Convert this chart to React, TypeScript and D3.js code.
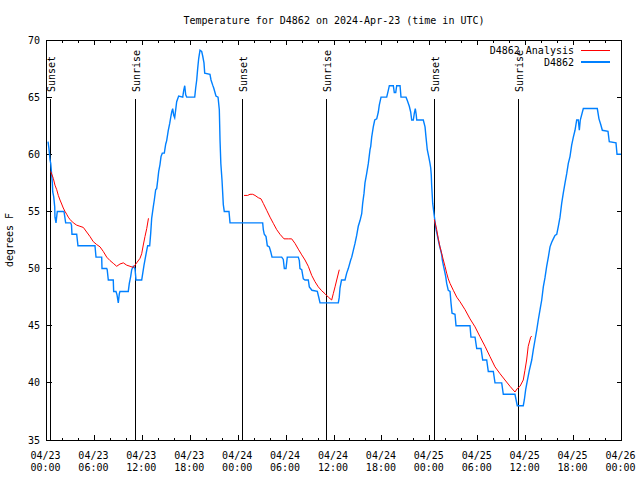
import React from 'react';
import * as d3 from 'd3';

// ---------- data (hours since 2024-04-23 00:00 UTC, degrees F) ----------
const startUtc = Date.UTC(2024, 3, 23, 0, 0, 0);
const spanHours = 72;

const title = 'Temperature for D4862 on 2024-Apr-23 (time in UTC)';
const yLabel = 'degrees F';
const yTicks = [35, 40, 45, 50, 55, 60, 65, 70];

const sunsetHours = [0.48, 24.52, 48.56];
const sunriseHours = [11.12, 35.04, 59.08];

const observed: [number, number][] = [
  [0.19, 61.1], [0.31, 60.5], [0.44, 59.5], [0.53, 59.2], [0.73, 57.5], [0.78, 56.7], [0.9, 56.3], [1.03, 55.4],
  [1.06, 54.5], [1.19, 54], [1.35, 55], [2.19, 55], [2.4, 54], [3.03, 54], [3.13, 53.8], [3.19, 53], [3.78, 53],
  [3.94, 52], [6.07, 52], [6.2, 51], [6.91, 51], [6.95, 50], [7.54, 50], [7.6, 49.9], [7.74, 49], [8.36, 49],
  [8.41, 48], [8.7, 48], [8.83, 47.7], [8.99, 47], [9.12, 47.8], [9.2, 48], [10.24, 48], [10.37, 48.7],
  [10.54, 49.3], [10.67, 49.9], [10.87, 50.2], [11.08, 50], [11.21, 49], [11.92, 49], [12.21, 50.3],
  [12.55, 51.6], [12.67, 52], [12.92, 52], [13.05, 53.1], [13.17, 54.4], [13.37, 55.4], [13.5, 56],
  [13.67, 56.9], [13.8, 57], [13.92, 57.7], [14.05, 58.5], [14.21, 59.1], [14.34, 59.8], [14.5, 60.1],
  [14.75, 60.1], [14.93, 60.9], [15.05, 61.2], [15.25, 62.1], [15.43, 62.7], [15.55, 63.2], [15.68, 63.7],
  [15.8, 64.0], [15.93, 63.4], [16.05, 63.2], [16.18, 63.9], [16.3, 64.6], [16.55, 65.1], [17.06, 65],
  [17.18, 65.6], [17.31, 66], [17.43, 65.2], [17.56, 65], [18.56, 65], [18.68, 65.8], [18.81, 66.5],
  [18.93, 67.5], [19.06, 68.4], [19.22, 69.1], [19.43, 69], [19.56, 68.6], [19.72, 68], [19.81, 67.1],
  [20.47, 67], [20.6, 66.5], [20.81, 66.05], [20.94, 65.8], [21.22, 65.1], [21.48, 65], [21.64, 63.9],
  [21.73, 61.2], [21.83, 59.2], [21.98, 57.7], [22.14, 55.6], [22.26, 55], [22.85, 55], [22.98, 54],
  [27.07, 54], [27.15, 53.4], [27.27, 53], [27.49, 52.8], [27.65, 52], [27.9, 51.9], [28.07, 51.5],
  [28.24, 51], [29.45, 51], [29.65, 50.8], [29.78, 50], [29.99, 50], [30.15, 51], [31.53, 51], [31.66, 50.7],
  [31.74, 50], [31.96, 49.9], [32.16, 49.1], [32.37, 49], [32.78, 49], [32.91, 48.4], [33.24, 48.1],
  [33.91, 48], [34.12, 47.4], [34.25, 47], [36.54, 47], [36.66, 47.5], [36.75, 48.3], [36.94, 49],
  [37.38, 49], [37.59, 49.6], [37.79, 50], [38.09, 50.75], [38.22, 51], [38.42, 51.6], [38.63, 52.2],
  [38.84, 52.9], [39.04, 53.7], [39.26, 54.2], [39.47, 54.8], [39.59, 55.7], [39.76, 56.6], [39.88, 57.5],
  [40.09, 58.3], [40.3, 59.2], [40.51, 60.4], [40.6, 60.7], [40.72, 61.5], [40.92, 62.4], [41.1, 63.0],
  [41.35, 63.1], [41.55, 63.7], [41.67, 64.3], [41.89, 65], [42.6, 65], [42.8, 65.6], [42.93, 66],
  [43.43, 66], [43.55, 65.4], [43.73, 65.4], [43.85, 66], [44.27, 66], [44.39, 65], [45.02, 65],
  [45.18, 64.7], [45.43, 64.2], [45.6, 63.7], [45.73, 63], [45.93, 63], [46.06, 63.6], [46.18, 64.0],
  [46.29, 63.5], [46.36, 63], [47.18, 63], [47.4, 62.4], [47.52, 61.5], [47.68, 60.4], [47.86, 59.8],
  [48.02, 59.2], [48.11, 58.8], [48.18, 58.2], [48.23, 57.3], [48.36, 55.7], [48.52, 54.8], [48.65, 54.1],
  [48.78, 53.4], [48.94, 52.9], [49.06, 52.5], [49.19, 52.06], [49.36, 51.6], [49.49, 51.2], [49.56, 50.75],
  [49.69, 50.3], [49.81, 49.9], [49.99, 49.3], [50.11, 48.7], [50.31, 48.1], [50.53, 48], [50.65, 47],
  [50.78, 46.1], [51.15, 46], [51.28, 45], [53.03, 45], [53.15, 44], [53.66, 44], [53.87, 43], [54.41, 43],
  [54.62, 42], [55.12, 42], [55.32, 41], [55.95, 41], [56.16, 40], [57.0, 40], [57.2, 39], [58.66, 39],
  [58.95, 38], [59.7, 38], [59.83, 38.5], [60.0, 39.4], [60.21, 40.2], [60.46, 41.1], [60.76, 42.0],
  [60.96, 42.9], [61.17, 43.75], [61.38, 44.6], [61.58, 45.5], [61.8, 46.4], [62.01, 47.25], [62.21, 48.4],
  [62.42, 49.2], [62.63, 50.2], [62.84, 51], [63.05, 51.9], [63.26, 52.3], [63.46, 52.6], [63.67, 52.9],
  [63.89, 53], [64.09, 53.7], [64.3, 54.5], [64.51, 55.7], [64.71, 56.6], [64.93, 57.5], [65.14, 58.3],
  [65.34, 59.2], [65.55, 59.8], [65.76, 60.8], [65.97, 61.5], [66.18, 62.1], [66.39, 63], [66.59, 63],
  [66.72, 62.1], [66.84, 63], [67.22, 64], [68.97, 64], [69.18, 63.1], [69.4, 62.6], [69.6, 62.1],
  [70.31, 62], [70.47, 61.1], [71.31, 61], [71.44, 60], [71.94, 60],
];

const analysisDay1: [number, number][] = [
  [0.53, 58.5], [0.85, 57.9], [1.06, 57.3], [1.28, 56.9], [1.48, 56.4], [1.69, 56.0], [1.9, 55.65],
  [2.1, 55.3], [2.32, 55.0], [2.53, 54.75], [2.73, 54.5], [2.94, 54.3], [3.36, 54.0], [3.78, 53.8],
  [4.19, 53.7], [4.61, 53.6], [5.03, 53.2], [5.45, 52.8], [5.86, 52.35], [6.29, 52.1], [6.7, 51.9],
  [7.11, 51.5], [7.54, 51.0], [7.95, 50.7], [8.36, 50.46], [8.79, 50.2], [9.2, 50.4], [9.62, 50.5],
  [10.04, 50.3], [10.46, 50.2], [10.87, 50.1], [11.29, 50.5], [11.71, 50.9], [11.92, 51.3], [12.12, 52.06],
  [12.33, 52.8], [12.55, 53.5], [12.77, 54.4],
];
const analysisDay2: [number, number][] = [
  [24.73, 56.4], [25.19, 56.4], [25.48, 56.5], [25.82, 56.5], [26.11, 56.4], [26.52, 56.2], [26.86, 56.1],
  [27.15, 55.7], [27.57, 55.1], [27.99, 54.5], [28.4, 53.96], [28.83, 53.4], [29.24, 53.0], [29.74, 52.6],
  [30.28, 52.6], [30.7, 52.6], [31.12, 52.2], [31.53, 51.7], [31.96, 51.2], [32.37, 50.75], [32.78, 50.2],
  [33.21, 49.4], [33.62, 48.85], [34.03, 48.4], [34.46, 48.06], [34.87, 47.8], [35.29, 47.5], [35.71, 47.25],
  [35.91, 47.8], [36.13, 48.4], [36.34, 49.0], [36.66, 49.9],
];
const analysisDay3: [number, number][] = [
  [48.56, 54.3], [48.86, 53.4], [49.06, 52.6], [49.27, 51.9], [49.49, 51.3], [49.69, 50.75], [49.9, 50.2],
  [50.11, 49.6], [50.31, 49.1], [50.53, 48.7], [50.94, 48.1], [51.37, 47.5], [51.78, 47.1], [52.41, 46.4],
  [53.03, 45.6], [53.66, 44.9], [54.28, 44.04], [54.91, 43.2], [55.53, 42.3], [56.16, 41.4], [56.79, 40.8],
  [57.41, 40.25], [58.04, 39.7], [58.66, 39.2], [58.95, 39.5], [59.29, 39.7], [59.7, 40.25], [59.91, 41.1],
  [60.12, 42.0], [60.32, 43.2], [60.63, 44.0], [60.76, 44.1],
];

const seriesNames = ['D4862 Analysis', 'D4862'];
const seriesColors = ['#ff0000', '#0080ff'];

// ---------- layout ----------
const W = 640;
const H = 480;
const plot = { left: 46.5, right: 621.5, top: 40, bottom: 440 };
const FONT = 'DejaVu Sans Mono, Liberation Mono, monospace';
const FS = 10;
const eventLineTop = 99;
const eventLabelY = 92;
const blueWidth = 1.4;

const toDate = (h: number) => new Date(startUtc + h * 3600e3);

export default function App() {
  const x = d3.scaleUtc().domain([toDate(0), toDate(spanHours)]).range([plot.left, plot.right]);
  const y = d3.scaleLinear().domain([35, 70]).range([plot.bottom, plot.top]);
  const line = d3
    .line<[number, number]>()
    .x((d) => x(toDate(d[0])))
    .y((d) => y(d[1]));

  const minorTicks = x.ticks(d3.utcHour.every(2)!);
  const majorTicks = x.ticks(d3.utcHour.every(6)!);
  const fmtDate = d3.utcFormat('%m/%d');
  const fmtTime = d3.utcFormat('%H:%M');

  const events = [
    ...sunsetHours.map((h) => ({ h, label: 'Sunset' })),
    ...sunriseHours.map((h) => ({ h, label: 'Sunrise' })),
  ];

  const analysis = [analysisDay1, analysisDay2, analysisDay3];

  return (
    <svg
      width={W}
      height={H}
      style={{ position: 'absolute', left: 0, top: 0, background: '#fff' }}
      fontFamily={FONT}
      fontSize={FS}
    >
      <rect x={0} y={0} width={W} height={H} fill="#fff" />
      {/* title */}
      <text x={(plot.left + plot.right) / 2} y={24} textAnchor="middle" fill="#000">
        {title}
      </text>
      {/* y label */}
      <text transform={`translate(13,${(plot.top + plot.bottom) / 2}) rotate(-90)`} textAnchor="middle" fill="#000">
        {yLabel}
      </text>

      {/* ticks */}
      <g shapeRendering="crispEdges" stroke="#000">
        {yTicks.map((t) => (
          <g key={t}>
            <line x1={plot.left} x2={plot.left + 5} y1={y(t)} y2={y(t)} />
            <line x1={plot.right} x2={plot.right - 5} y1={y(t)} y2={y(t)} />
          </g>
        ))}
        {minorTicks.map((t, i) => {
          const major = majorTicks.some((m) => +m === +t);
          const len = major ? 5 : 2.5;
          return (
            <g key={i}>
              <line x1={x(t)} x2={x(t)} y1={plot.bottom} y2={plot.bottom - len} />
              <line x1={x(t)} x2={x(t)} y1={plot.top} y2={plot.top + len} />
            </g>
          );
        })}
      </g>
      {yTicks.map((t) => (
        <text key={t} x={40} y={y(t) + 3.5} textAnchor="end" fill="#000">
          {t}
        </text>
      ))}
      {majorTicks.map((t, i) => (
        <g key={i}>
          <text x={x(t) - 1} y={458.5} textAnchor="middle" fill="#000">
            {fmtDate(t)}
          </text>
          <text x={x(t) - 1} y={471} textAnchor="middle" fill="#000">
            {fmtTime(t)}
          </text>
        </g>
      ))}

      {/* sunrise / sunset markers */}
      {events.map((e, i) => (
        <g key={i}>
          <line
            x1={x(toDate(e.h))}
            x2={x(toDate(e.h))}
            y1={eventLineTop}
            y2={plot.bottom}
            stroke="#000"
            strokeWidth={1.5}
            shapeRendering="crispEdges"
          />
          <text
            transform={`translate(${x(toDate(e.h)) + 4.5},${eventLabelY}) rotate(-90)`}
            textAnchor="start"
            fill="#000"
          >
            {e.label}
          </text>
        </g>
      ))}

      {/* data */}
      <path d={line(observed) || ''} fill="none" stroke={seriesColors[1]} strokeWidth={blueWidth} />
      {analysis.map((seg, i) => (
        <path key={i} d={line(seg) || ''} fill="none" stroke={seriesColors[0]} strokeWidth={1} />
      ))}

      {/* legend */}
      {seriesNames.map((n, i) => (
        <g key={n}>
          <text x={574} y={53.5 + i * 12} textAnchor="end" fill="#000">
            {n}
          </text>
          <line
            x1={581}
            x2={610}
            y1={50 + i * 12}
            y2={50 + i * 12}
            stroke={seriesColors[i]}
            strokeWidth={i === 0 ? 1 : blueWidth}
            shapeRendering="crispEdges"
          />
        </g>
      ))}

      {/* frame */}
      <rect
        x={plot.left}
        y={plot.top}
        width={plot.right - plot.left}
        height={plot.bottom - plot.top}
        fill="none"
        stroke="#000"
        strokeWidth={1}
        shapeRendering="crispEdges"
      />
    </svg>
  );
}
